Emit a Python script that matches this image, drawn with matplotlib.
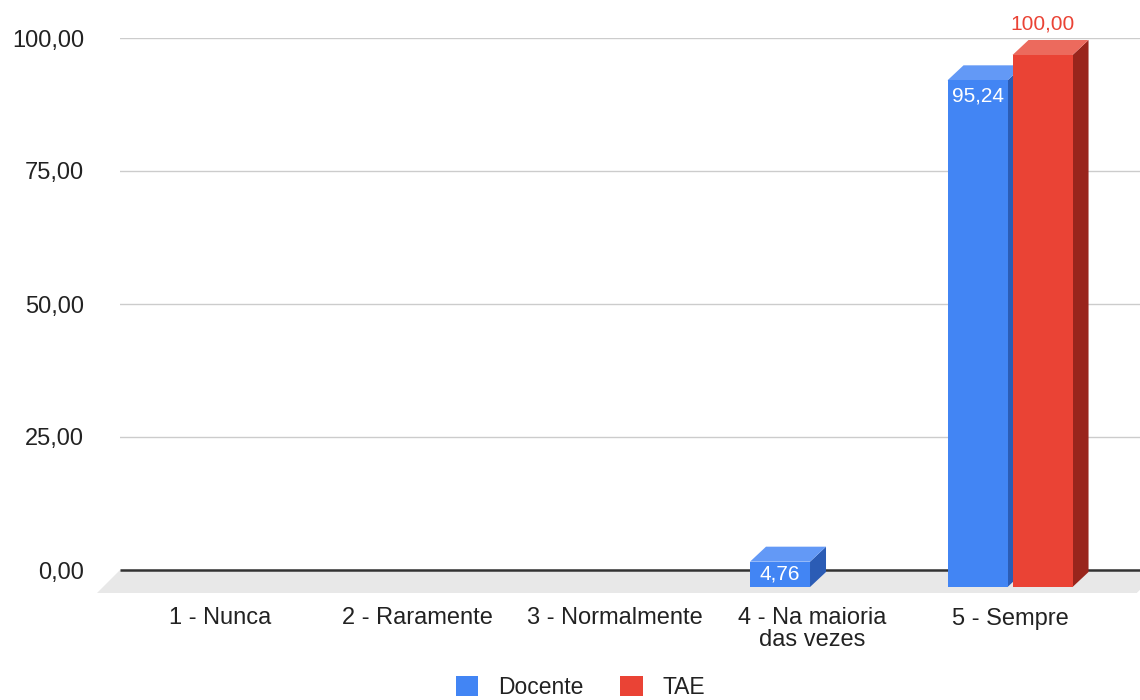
import matplotlib.pyplot as plt
from matplotlib.patches import Polygon, Patch
from matplotlib.transforms import offset_copy

plt.rcParams["font.family"] = ["Liberation Sans", "DejaVu Sans"]

# Data
categories = ["1 - Nunca", "2 - Raramente", "3 - Normalmente",
              "4 - Na maioria\ndas vezes", "5 - Sempre"]
docente = [0, 0, 0, 4.76, 95.24]
tae = [0, 0, 0, 0, 100]
series_names = ["Docente", "TAE"]
yticks = [0, 25, 50, 75, 100]

# colours: front, top, side
blue = ("#4285f4", "#6399f6", "#2b5cb5")
red = ("#ea4335", "#ec6a5d", "#99251c")

fig = plt.figure(figsize=(11.4, 7), dpi=100)
ax = fig.add_axes([120 / 1140, 130 / 700, 1020 / 1140, 532 / 700])
ax.set_ylim(0, 100)
ax.set_xlim(-0.506, 4.658)
for s in ax.spines.values():
    s.set_visible(False)

ax.set_yticks(yticks)
ax.set_yticklabels([f"{v:.2f}".replace(".", ",") for v in yticks])
ax.tick_params(axis="y", length=0, pad=26, labelsize=17, labelcolor="#222222")
ax.grid(axis="y", color="#cccccc", linewidth=1)
ax.set_axisbelow(True)

ax.set_xticks(range(len(categories)))
ax.set_xticklabels(categories, linespacing=1.0)
ax.tick_params(axis="x", length=0, pad=27, labelsize=17, labelcolor="#222222")


def px_to_data(dx, dy):
    inv = ax.transData.inverted()
    a = inv.transform((0, 0))
    b = inv.transform((dx, dy))
    return b[0] - a[0], b[1] - a[1]


# floor
fdx, fdy = px_to_data(23, 23)
x_lo, x_hi = ax.get_xlim()
floor = Polygon([(x_lo, 0), (x_hi + 0.1, 0), (x_hi + 0.1 - fdx, -fdy), (x_lo - fdx, -fdy)],
                closed=True, facecolor="#e8e8e8", edgecolor="none", clip_on=False, zorder=1)
ax.add_patch(floor)
ax.plot([x_lo, x_hi], [0, 0], color="#333333", linewidth=1.8, clip_on=False, zorder=2,
        solid_capstyle="butt")

# bars (front face shifted down by 17px, depth 16px x 15px)
front = offset_copy(ax.transData, fig=fig, x=0, y=-17, units="dots")
ddx, ddy = px_to_data(16, 15)
bw = 60 / 197.5
offs = [-32.5 / 197.5, 32.5 / 197.5]
y_per_px = px_to_data(0, 1)[1]

z = 3
for i in range(len(categories)):
    for vals, cols, off in ((docente, blue, offs[0]), (tae, red, offs[1])):
        v = vals[i]
        if v == 0:
            continue
        x0 = i + off - bw / 2
        x1 = i + off + bw / 2
        side = Polygon([(x1, 0), (x1, v), (x1 + ddx, v + ddy), (x1 + ddx, ddy)],
                       facecolor=cols[2], edgecolor="none", transform=front,
                       clip_on=False, zorder=z)
        top = Polygon([(x0, v), (x1, v), (x1 + ddx, v + ddy), (x0 + ddx, v + ddy)],
                      facecolor=cols[1], edgecolor="none", transform=front,
                      clip_on=False, zorder=z + 1)
        ax.add_patch(side)
        ax.add_patch(top)
        ax.bar(i + off, v, width=bw, color=cols[0], transform=front,
               clip_on=False, zorder=z + 2)
        label = f"{v:.2f}".replace(".", ",")
        if v >= 99:
            ax.text(i + off, v + 14 * y_per_px, label, transform=ax.transData,
                    ha="center", va="center", fontsize=15, color=cols[0], zorder=z + 3)
        else:
            h_px = v / y_per_px
            ax.text(i + off, v - min(16, h_px / 2) * y_per_px, label, transform=front,
                    ha="center", va="center", fontsize=15, color="white", zorder=z + 3)
        z += 4

handles = [Patch(facecolor=blue[0]), Patch(facecolor=red[0])]
fig.legend(handles, series_names, loc="center", bbox_to_anchor=(0.509, 0.018),
           ncol=2, frameon=False, fontsize=16.5, handlelength=1.0, handleheight=1.0,
           handletextpad=0.85, columnspacing=1.6, labelcolor="#222222",
           borderpad=0.1)

fig.savefig("out.png", dpi=100)
